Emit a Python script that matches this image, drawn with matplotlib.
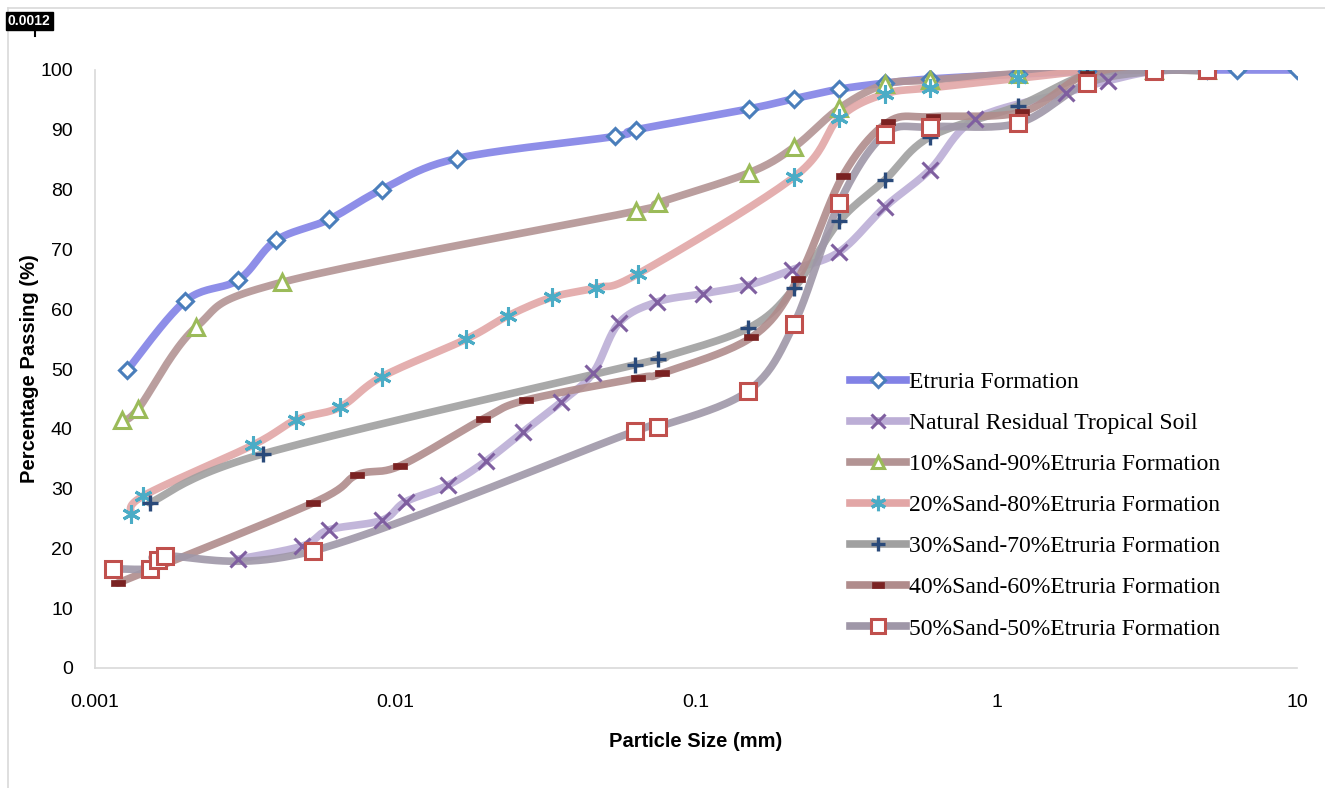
import numpy as np
import matplotlib
matplotlib.use('Agg')
import matplotlib.pyplot as plt
from matplotlib.lines import Line2D

# sieve / hydrometer sizes (mm) and percentage passing
etruria_x = [0.00128, 0.0020, 0.0030, 0.0040, 0.0060, 0.0090, 0.0160, 0.0537, 0.063, 0.15, 0.212, 0.30, 0.425, 0.60, 1.18, 2.0, 3.35, 5.0, 6.3, 10.0]
etruria_y = [49.8, 61.4, 64.9, 71.5, 75.0, 80.0, 85.2, 88.9, 90.0, 93.5, 95.2, 96.8, 97.8, 98.5, 99.3, 99.8, 100, 100, 100, 100]

natural_x = [0.0030, 0.0049, 0.0060, 0.0090, 0.0108, 0.0150, 0.0200, 0.0266, 0.0356, 0.0454, 0.0554, 0.0741, 0.1055, 0.149, 0.2085, 0.30, 0.425, 0.60, 0.85, 1.70, 2.35, 3.35, 5.0]
natural_y = [18.2, 20.4, 23.1, 24.7, 27.8, 30.6, 34.6, 39.5, 44.5, 49.3, 57.7, 61.2, 62.6, 64.0, 66.6, 69.6, 77.1, 83.3, 91.8, 96.2, 98.2, 99.8, 100]

s10_x = [0.00123, 0.00139, 0.00217, 0.00419, 0.063, 0.075, 0.15, 0.212, 0.30, 0.425, 0.60, 1.18, 2.0, 3.35, 5.0]
s10_y = [41.5, 43.3, 57.0, 64.5, 76.4, 77.8, 82.8, 87.1, 93.6, 97.6, 98.3, 99.4, 100, 100, 100]

s20_x = [0.00132, 0.00145, 0.00336, 0.00467, 0.00653, 0.0090, 0.0172, 0.0237, 0.0332, 0.0465, 0.0641, 0.212, 0.30, 0.425, 0.60, 1.18, 2.0, 3.35, 5.0]
s20_y = [25.7, 28.8, 37.3, 41.5, 43.6, 48.7, 55.0, 58.9, 62.0, 63.6, 65.9, 82.1, 92.0, 96.0, 97.0, 98.6, 99.8, 100, 100]

s30_x = [0.00152, 0.00362, 0.0626, 0.0746, 0.149, 0.212, 0.30, 0.425, 0.60, 1.18, 2.0, 3.35, 5.0]
s30_y = [27.6, 35.8, 50.7, 51.7, 56.8, 63.5, 74.7, 81.6, 88.8, 94.0, 99.2, 100, 99.8]

s40_x = [0.00119, 0.00532, 0.00745, 0.01035, 0.0195, 0.0272, 0.0641, 0.0771, 0.153, 0.218, 0.308, 0.436, 0.615, 1.22, 2.0, 3.35, 5.0]
s40_y = [14.2, 27.6, 32.3, 33.8, 41.6, 44.8, 48.5, 49.3, 55.3, 65.0, 82.3, 91.3, 92.2, 93.0, 99.3, 100, 100]

s50_x = [0.00115, 0.00153, 0.00162, 0.00171, 0.00532, 0.0626, 0.0746, 0.149, 0.212, 0.30, 0.425, 0.60, 1.18, 2.0, 3.35, 5.0]
s50_y = [16.6, 16.6, 18.1, 18.7, 19.6, 39.6, 40.3, 46.3, 57.5, 77.8, 89.3, 90.5, 91.1, 97.8, 99.8, 100]

labels = ['Etruria Formation', 'Natural Residual Tropical Soil',
          '10%Sand-90%Etruria Formation', '20%Sand-80%Etruria Formation',
          '30%Sand-70%Etruria Formation', '40%Sand-60%Etruria Formation',
          '50%Sand-50%Etruria Formation']

dash = [(-1, -0.45), (1, -0.45), (1, 0.45), (-1, 0.45), (-1, -0.45)]

# line colour, marker, marker colour, face colour, marker size, edge width
styles = [
    ('#8282e6', 'D', '#4a7ebb', 'white', 8, 2.2),
    ('#bcaed6', 'x', '#7f5fa0', '#7f5fa0', 12, 2.2),
    ('#b39494', '^', '#9bbb59', 'white', 11, 2.2),
    ('#e2a6a6', (6, 2, 0), '#4bacc6', '#4bacc6', 13, 2.2),
    ('#a0a0a0', '+', '#2a4a7a', '#2a4a7a', 12, 2.4),
    ('#b08c8c', dash, '#7a2222', '#7a2222', 10, 0.5),
    ('#9f97a8', 's', '#c0504d', 'white', 12, 2.2),
]


def smooth(x, y, n=24):
    # Catmull-Rom style Bezier through the points in log-x space (like Excel smoothed lines)
    p = np.column_stack([np.log10(x), y])
    segs = []
    t = np.linspace(0, 1, n)[:, None]
    for i in range(len(p) - 1):
        p0 = p[max(i - 1, 0)]
        p1 = p[i]
        p2 = p[i + 1]
        p3 = p[min(i + 2, len(p) - 1)]
        c1 = p1 + (p2 - p0) / 6
        c2 = p2 - (p3 - p1) / 6
        segs.append((1 - t) ** 3 * p1 + 3 * (1 - t) ** 2 * t * c1 + 3 * (1 - t) * t ** 2 * c2 + t ** 3 * p2)
    s = np.vstack(segs)
    return 10 ** s[:, 0], s[:, 1]


series = [(etruria_x, etruria_y), (natural_x, natural_y), (s10_x, s10_y), (s20_x, s20_y),
          (s30_x, s30_y), (s40_x, s40_y), (s50_x, s50_y)]

fig = plt.figure(figsize=(13.25, 7.88), dpi=100)
ax = fig.add_axes([95 / 1325, 120 / 788, 1202 / 1325, 598 / 788])

handles = []
for (x, y), st, lab in zip(series, styles, labels):
    lc, mk, mc, fc, ms, mew = st
    sx, sy = smooth(x, y)
    ax.plot(sx, sy, color=lc, lw=5.5, alpha=0.9, solid_capstyle='round', zorder=2)
    ax.plot(x, y, ls='none', marker=mk, ms=ms, mec=mc, mfc=fc, mew=mew, zorder=3)
    handles.append(Line2D([], [], color=lc, lw=5.5, marker=mk, ms=ms * 0.85, mec=mc, mfc=fc, mew=mew))

ax.set_xscale('log')
ax.set_xlim(0.001, 10)
ax.set_ylim(0, 100)
ax.set_yticks(np.arange(0, 101, 10))
ax.set_xticks([0.001, 0.01, 0.1, 1, 10])
ax.set_xticklabels(['0.001', '0.01', '0.1', '1', '10'])
ax.xaxis.set_minor_locator(matplotlib.ticker.NullLocator())
ax.tick_params(axis='x', length=0, labelsize=14, pad=18.5)
ax.tick_params(axis='y', length=0, labelsize=14, pad=16)
for lbl in ax.get_xticklabels() + ax.get_yticklabels():
    lbl.set_family('Liberation Sans')

for s in ['top', 'right']:
    ax.spines[s].set_visible(False)
for s in ['left', 'bottom']:
    ax.spines[s].set_color('#d9d9d9')
    ax.spines[s].set_linewidth(1.2)

ax.set_xlabel('Particle Size (mm)', fontsize=14.5, fontweight='bold', family='Liberation Sans', labelpad=15)
ax.set_ylabel('Percentage Passing (%)', fontsize=14.5, fontweight='bold', family='Liberation Sans', labelpad=1)

leg = ax.legend(handles, labels, loc='upper left', bbox_to_anchor=(0.62, 0.512),
                frameon=False, prop={'family': 'Liberation Serif', 'size': 17},
                handlelength=2.4, handletextpad=0.1, labelspacing=0.83, borderaxespad=0)

# the light chart-area border and the overlapped label artefact at the top left
fig.add_artist(Line2D([8 / 1325, 8 / 1325], [0, 1 - 8 / 788], color='#d9d9d9', lw=1.2, transform=fig.transFigure))
fig.add_artist(Line2D([8 / 1325, 1], [1 - 8 / 788, 1 - 8 / 788], color='#d9d9d9', lw=1.2, transform=fig.transFigure))
fig.text(8 / 1325, 1 - 25 / 788, '0.0012', fontsize=10, fontweight='bold', color='white', family='Liberation Sans',
         bbox=dict(facecolor='black', edgecolor='black', pad=1.5))
fig.add_artist(Line2D([35 / 1325, 35 / 1325], [1 - 36 / 788, 1 - 27 / 788], color='black', lw=1.5, transform=fig.transFigure))

fig.savefig('out.png', dpi=100)
